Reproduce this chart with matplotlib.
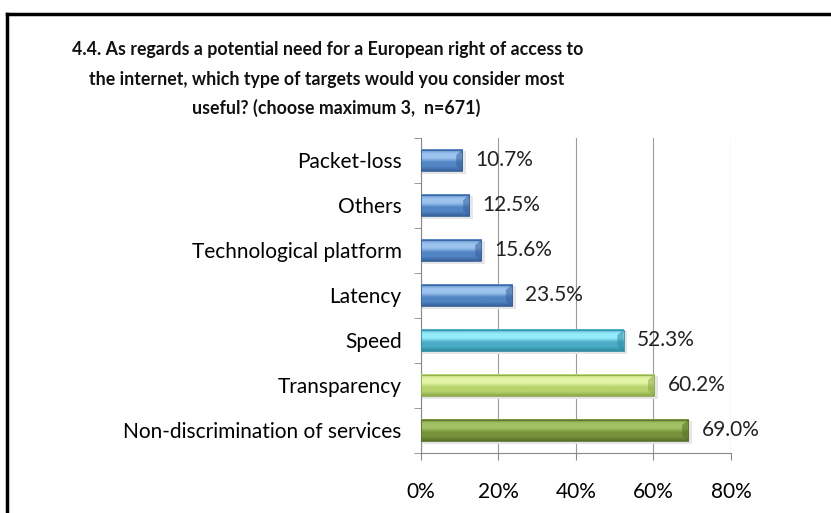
import matplotlib.pyplot as plt
import numpy as np
from matplotlib.colors import LinearSegmentedColormap
from matplotlib.lines import Line2D

categories = ["Non-discrimination of services", "Transparency", "Speed", "Latency",
              "Technological platform", "Others", "Packet-loss"]
values = [69.0, 60.2, 52.3, 23.5, 15.6, 12.5, 10.7]
labels = ["69.0%", "60.2%", "52.3%", "23.5%", "15.6%", "12.5%", "10.7%"]
xticks = [0, 20, 40, 60, 80]
xticklabels = ["0%", "20%", "40%", "60%", "80%"]

# light / main / dark shade of each bar, bottom to top
shades = [
    ("#a3c266", "#77933c", "#56702a"),
    ("#e4f5a6", "#b6d36c", "#8ca84c"),
    ("#95ecfb", "#4bacc6", "#2f8aa3"),
    ("#9cc3ee", "#5285c4", "#37609a"),
    ("#9cc3ee", "#5285c4", "#37609a"),
    ("#9cc3ee", "#5285c4", "#37609a"),
    ("#9cc3ee", "#5285c4", "#37609a"),
]

title_lines = ["4.4. As regards a potential need for a European right of access to",
               "the internet, which type of targets would you consider most",
               "useful? (choose maximum 3,  n=671)"]

plt.rcParams['font.family'] = ['Lato', 'DejaVu Sans']

fig = plt.figure(figsize=(8.31, 5.13), dpi=100)
ax = fig.add_axes([0.5066, 0.117, 0.373, 0.614])

h = 0.48
ypos = np.arange(len(categories))
for y, v, lab, (light, main, dark) in zip(ypos, values, labels, shades):
    # soft shadow behind the bar
    ax.add_patch(plt.Rectangle((0, y - h / 2 - 0.05), v + 0.9, h + 0.02,
                               color="#e6e6e6", zorder=2, lw=0))
    cmap = LinearSegmentedColormap.from_list("b", [dark, main, main, light, light, main])
    grad = np.linspace(0, 1, 64).reshape(-1, 1)
    ax.imshow(grad, extent=(0, v, y - h / 2, y + h / 2), origin="lower",
              cmap=cmap, aspect="auto", zorder=3)
    ax.add_patch(plt.Rectangle((0, y - h / 2), v, h, fill=False,
                               ec=dark, lw=0.6, zorder=4))
    # bevelled right end
    ax.add_patch(plt.Polygon([(v, y - h / 2), (v, y + h / 2), (v - 1.6, y + h / 4),
                              (v - 1.6, y - h / 4)], color=dark, alpha=0.55,
                             lw=0, zorder=4))
    ax.text(v + 3.4, y, lab, va="center", ha="left",
            fontsize=15, color="#222222", zorder=5)

ax.set_xlim(0, 80)
ax.set_ylim(-0.5, len(categories) - 0.5)
ax.set_xticks(xticks)
ax.set_xticklabels(xticklabels, fontsize=15)
ax.set_yticks(ypos)
ax.set_yticklabels(categories, fontsize=15)
ax.set_yticks(np.arange(-0.5, len(categories), 1), minor=True)
ax.tick_params(axis="y", which="major", length=0, pad=14)
ax.tick_params(axis="y", which="minor", length=5, color="#888888", direction="out")
ax.tick_params(axis="x", length=5, color="#888888", pad=16)
ax.grid(axis="x", color="#9a9a9a", lw=0.8, zorder=0)
ax.set_axisbelow(True)
for s in ["top", "right"]:
    ax.spines[s].set_visible(False)
for s in ["left", "bottom"]:
    ax.spines[s].set_color("#888888")
    ax.spines[s].set_linewidth(0.8)

for line, x, y in zip(title_lines, [0.394, 0.393, 0.405], [0.903, 0.845, 0.790]):
    fig.text(x, y, line, ha="center", va="center", fontsize=12.8,
             fontweight="bold", color="#111111")

# outer frame lines
fig.add_artist(Line2D([0.008, 0.008], [0, 0.972], color="black", lw=2.5))
fig.add_artist(Line2D([0.008, 1.0], [0.972, 0.972], color="black", lw=2.5))

fig.savefig("out.png", dpi=100)
